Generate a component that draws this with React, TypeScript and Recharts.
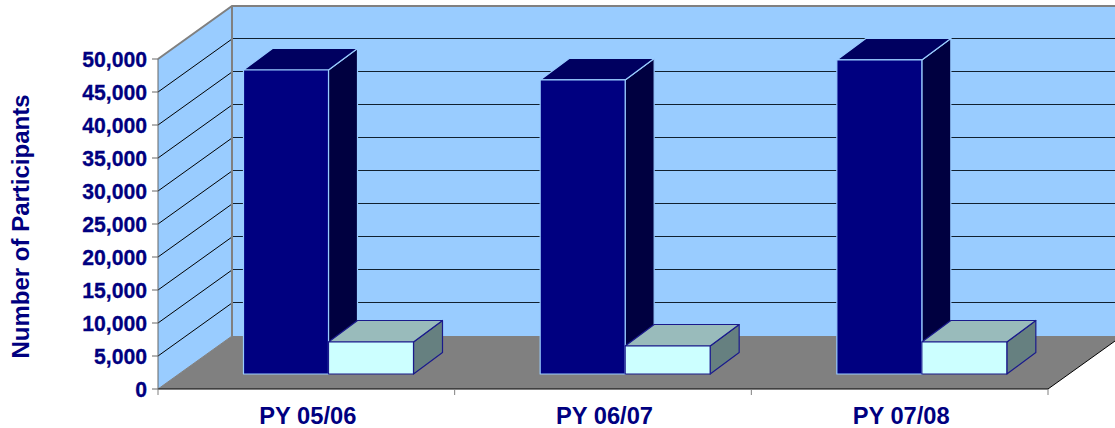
import React from 'react';
import { ComposedChart, Bar, XAxis, YAxis, usePlotArea } from 'recharts';

const programYears = ['PY 05/06', 'PY 06/07', 'PY 07/08'];
const enrolled = [46060, 44550, 47580];
const completed = [4850, 4240, 4850];
const yTicks = [0, 5000, 10000, 15000, 20000, 25000, 30000, 35000, 40000, 45000, 50000];

const rows = programYears.map((year, i) => ({ year, enrolled: enrolled[i], completed: completed[i] }));

const NAVY = '#000080';
const FONT = '"Liberation Sans", Arial, sans-serif';
const Y_MAX = 50000;

// Depth of the chart box and of each bar, as a screen offset.
const BOX_DX = 74;
const BOX_DY = -53;
const BAR_SHIFT_X = 22.5;
const BAR_SHIFT_Y = -15;
const BAR_DX = 29;
const BAR_DY = -21.5;

const pts = (list: number[][]) => list.map((p) => p.join(',')).join(' ');

// Side wall, back wall and floor of the box, with gridlines following the value scale.
function Walls() {
  const area = usePlotArea();
  if (!area) return null;
  const { x, y, width, height } = area;
  const right = x + width;
  const bottom = y + height;
  const yAt = (v: number) => y + height * (1 - v / Y_MAX);
  const bandEdges = programYears.map((_, i) => x + (width * i) / programYears.length).concat(right);
  return (
    <g>
      <polygon points={pts([[x, y], [x + BOX_DX, y + BOX_DY], [x + BOX_DX, bottom + BOX_DY], [x, bottom]])} fill="#99ccff" />
      <polygon points={pts([[x + BOX_DX, y + BOX_DY], [right + BOX_DX, y + BOX_DY], [right + BOX_DX, bottom + BOX_DY], [x + BOX_DX, bottom + BOX_DY]])} fill="#99ccff" />
      <polygon points={pts([[x, bottom], [x + BOX_DX, bottom + BOX_DY], [right + BOX_DX, bottom + BOX_DY], [right, bottom]])} fill="#808080" />
      {yTicks.filter((v) => v > 0 && v < Y_MAX).map((v) => (
        <g key={v}>
          <line x1={x} y1={yAt(v)} x2={x + BOX_DX} y2={yAt(v) + BOX_DY} stroke="#000000" strokeWidth={1} />
          <line x1={x + BOX_DX} y1={Math.round(yAt(v)) + BOX_DY - 0.5} x2={right + BOX_DX} y2={Math.round(yAt(v)) + BOX_DY - 0.5} stroke="#10202f" strokeWidth={1} />
        </g>
      ))}
      <polyline points={pts([[x, y], [x + BOX_DX, y + BOX_DY], [right + BOX_DX, y + BOX_DY]])} fill="none" stroke="#808080" strokeWidth={2} />
      <line x1={x + BOX_DX} y1={y + BOX_DY} x2={x + BOX_DX} y2={bottom + BOX_DY} stroke="#808080" strokeWidth={2} />
      <line x1={x} y1={bottom} x2={x + BOX_DX} y2={bottom + BOX_DY} stroke="#808080" strokeWidth={1} />
      <polyline points={pts([[x, bottom], [right, bottom], [right + BOX_DX, bottom + BOX_DY]])} fill="none" stroke="#000000" strokeWidth={1} />
      {bandEdges.map((ex) => (
        <line key={ex} x1={ex} y1={bottom} x2={ex} y2={bottom + 6} stroke="#808080" strokeWidth={1} />
      ))}
    </g>
  );
}

// Bar drawn as a block: front face, lid and right-hand side.
function block(front: string, lid: string, side: string, edge: string) {
  return function BlockShape(props: any) {
    const x = props.x + BAR_SHIFT_X;
    const y = props.y + BAR_SHIFT_Y;
    const { width: w, height: h } = props;
    return (
      <g stroke={edge} strokeWidth={1.2} strokeLinejoin="round">
        <polygon points={pts([[x + w, y], [x + w + BAR_DX, y + BAR_DY], [x + w + BAR_DX, y + h + BAR_DY], [x + w, y + h]])} fill={side} />
        <polygon points={pts([[x, y], [x + BAR_DX, y + BAR_DY], [x + w + BAR_DX, y + BAR_DY], [x + w, y]])} fill={lid} />
        <rect x={x} y={y} width={w} height={h} fill={front} />
      </g>
    );
  };
}

const EnrolledBlock = block('#000080', '#000060', '#000040', '#99ccff');
const CompletedBlock = block('#ccffff', '#99bbbb', '#668080', '#1a1a8c');

export default function App() {
  return (
    <div style={{ position: 'absolute', left: 0, top: 0, width: 1115, height: 428, overflow: 'hidden' }}>
      <ComposedChart
        width={1115}
        height={428}
        data={rows}
        margin={{ top: 59, right: 67, bottom: 0, left: 0 }}
        barSize={85}
        barGap={0}
        style={{ fontFamily: FONT }}
      >
        <Walls />
        <XAxis
          dataKey="year"
          height={39}
          axisLine={false}
          tickLine={false}
          tickMargin={12}
          tick={{ fill: NAVY, fontSize: 23.7, fontWeight: 700, fontFamily: FONT, dx: 1.5 }}
        />
        <YAxis
          width={158}
          domain={[0, Y_MAX]}
          ticks={yTicks}
          interval={0}
          tickSize={6}
          tickMargin={5}
          stroke="#666666"
          tickFormatter={(v: number) => v.toLocaleString('en-US')}
          tick={{ fill: NAVY, stroke: NAVY, strokeWidth: 0.3, fontSize: 21.2, fontWeight: 700, fontFamily: FONT }}
          label={{
            value: 'Number of Participants',
            angle: -90,
            position: 'insideLeft',
            offset: 0,
            dx: 20,
            dy: 2.5,
            style: { fill: NAVY, fontSize: 24, fontWeight: 700, fontFamily: FONT, textAnchor: 'middle' },
          }}
        />
        <Bar dataKey="enrolled" isAnimationActive={false} shape={EnrolledBlock} />
        <Bar dataKey="completed" isAnimationActive={false} shape={CompletedBlock} />
      </ComposedChart>
    </div>
  );
}
